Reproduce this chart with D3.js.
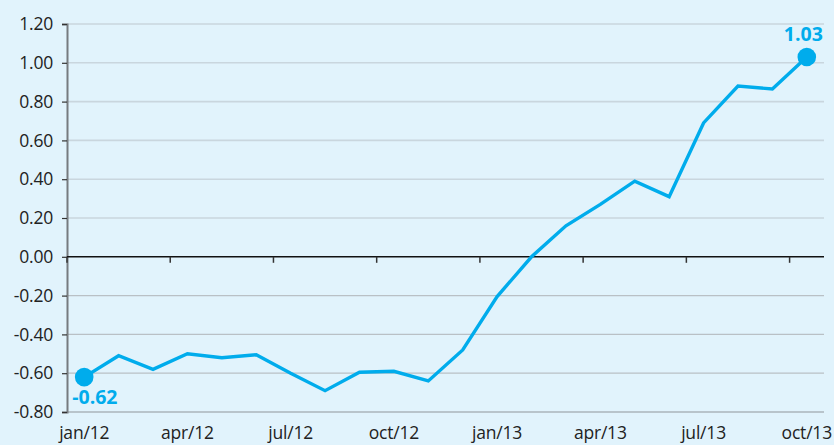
<!DOCTYPE html>
<html>
<head>
<meta charset="utf-8">
<script src="https://cdn.jsdelivr.net/npm/d3@7/dist/d3.min.js"></script>
<style>
  html, body { margin: 0; padding: 0; background: #e1f3fc; }
  svg { display: block; font-family: "Open Sans", sans-serif; }
</style>
</head>
<body>
<svg id="chart" width="834" height="445"></svg>
<script>
// ---- data ----
const months = ["jan/12","feb/12","mar/12","apr/12","may/12","jun/12","jul/12","aug/12","sep/12","oct/12","nov/12","dec/12",
                "jan/13","feb/13","mar/13","apr/13","may/13","jun/13","jul/13","aug/13","sep/13","oct/13"];
const values = [-0.62, -0.51, -0.58, -0.50, -0.52, -0.505, -0.60, -0.69, -0.595, -0.59, -0.64, -0.48,
                -0.205, 0.00, 0.16, 0.27, 0.39, 0.31, 0.69, 0.88, 0.865, 1.03];
const xTickLabels = ["jan/12","apr/12","jul/12","oct/12","jan/13","apr/13","jul/13","oct/13"];
const yTicks = [1.20, 1.00, 0.80, 0.60, 0.40, 0.20, 0.00, -0.20, -0.40, -0.60, -0.80];

(function () {
const svg = d3.select("#chart");
const W = 834, H = 445;
const mLeft = 67, mRight = 824, mTop = 24, mBottom = 412;
const blue = "#00acec";
const fmt = v => d3.format(".2f")(v).replace("−", "-");

svg.append("rect").attr("width", W).attr("height", H).attr("fill", "#e1f3fc");

const x = d3.scaleBand().domain(months).range([mLeft, mRight]).padding(0);
const y = d3.scaleLinear().domain([-0.8, 1.2]).range([mBottom, mTop]);

// gridlines
svg.append("g").selectAll("line").data(yTicks.filter(v => v !== 0 && v !== -0.8)).join("line")
  .attr("x1", mLeft).attr("x2", mRight)
  .attr("y1", d => y(d)).attr("y2", d => y(d))
  .attr("stroke", d => d > 0 ? "#c9d6de" : "#b9c0c5")
  .attr("stroke-width", d => d > 0 ? 1.6 : 1.2);

// bottom line
svg.append("line").attr("x1", mLeft).attr("x2", mRight)
  .attr("y1", y(-0.8)).attr("y2", y(-0.8))
  .attr("stroke", "#8f9599").attr("stroke-width", 1.2);

// y axis
const yAxis = d3.axisLeft(y).tickValues(yTicks).tickSize(5).tickPadding(9)
  .tickFormat(fmt);
const gy = svg.append("g").attr("transform", `translate(${mLeft},0)`).call(yAxis);
gy.select(".domain").attr("stroke", "#767b7f").attr("stroke-width", 2);
gy.selectAll(".tick line").attr("stroke", "#333").attr("stroke-width", 1.2);
gy.selectAll(".tick text").attr("fill", "#222").attr("font-size", 17.5)
  .attr("font-family", "'Open Sans', sans-serif").attr("letter-spacing", "-0.2");

// zero line with ticks at quarter boundaries
svg.append("line").attr("x1", mLeft).attr("x2", mRight)
  .attr("y1", y(0)).attr("y2", y(0)).attr("stroke", "#111").attr("stroke-width", 1.5);
svg.append("g").selectAll("line").data(xTickLabels).join("line")
  .attr("x1", d => x(d)).attr("x2", d => x(d))
  .attr("y1", y(0)).attr("y2", y(0) + 6)
  .attr("stroke", "#333").attr("stroke-width", 1.5);

// x labels
svg.append("g").selectAll("text").data(xTickLabels).join("text")
  .attr("x", d => x(d) + x.bandwidth() / 2)
  .attr("y", 439)
  .attr("text-anchor", "middle")
  .attr("fill", "#222").attr("font-size", 17.5).attr("letter-spacing", "-0.2")
  .text(d => d);

// line
const line = d3.line()
  .x((d, i) => x(months[i]) + x.bandwidth() / 2)
  .y(d => y(d));
svg.append("path").datum(values).attr("d", line)
  .attr("fill", "none").attr("stroke", blue).attr("stroke-width", 3.4)
  .attr("stroke-linejoin", "miter");

// end dots and labels
const ends = [0, values.length - 1];
svg.append("g").selectAll("circle").data(ends).join("circle")
  .attr("cx", i => x(months[i]) + x.bandwidth() / 2)
  .attr("cy", i => y(values[i]))
  .attr("r", 9.3).attr("fill", blue);

svg.append("text")
  .attr("x", x(months[0]) + x.bandwidth() / 2 - 12)
  .attr("y", y(values[0]) + 27)
  .attr("fill", blue).attr("font-weight", "bold").attr("font-size", 19.5)
  .text(fmt(values[0]));
svg.append("text")
  .attr("x", x(months[21]) + x.bandwidth() / 2 + 16)
  .attr("y", y(values[21]) - 16)
  .attr("text-anchor", "end")
  .attr("fill", blue).attr("font-weight", "bold").attr("font-size", 19.5)
  .text(fmt(values[21]));
})();
</script>
</body>
</html>
